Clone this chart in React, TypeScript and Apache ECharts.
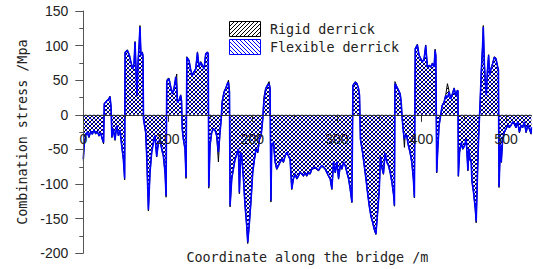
import React, { useEffect, useRef } from 'react';
import * as echarts from 'echarts';

// Coordinate along the bridge (m)
const positions = [
  0, 1.2, 2.8, 4.8, 6.7, 8.7, 10.7, 12.7, 14.6, 16.6,
  18.6, 20.5, 22.5, 24, 24.8, 27.7, 29.6, 31.6, 32.8, 33.8,
  35.5, 37.5, 39.5, 41.5, 43.4, 45.4, 47.4, 48.9, 49.4, 52.1,
  54.5, 56, 58.4, 60, 61.2, 62.4, 63.5, 64.7, 66, 67,
  68.2, 69.7, 70.6, 71.2, 73.8, 75, 77, 78.9, 80.9, 82.9,
  84.8, 86.8, 88.8, 90.7, 92.7, 94.7, 96.7, 97.9, 98.7, 99.5,
  101.4, 103.4, 105.4, 107.3, 109.3, 110.5, 111.3, 113.3, 115.2, 116.2,
  117, 118.4, 120.3, 121.5, 122.5, 125.1, 127.1, 129, 131, 133,
  135, 136.9, 138.9, 140.9, 142.8, 144.8, 146.8, 147.8, 148.4, 149.9,
  151.9, 153.9, 155.8, 157.8, 159.8, 161.7, 162.9, 164.2, 166.5, 168.5,
  170.5, 171.7, 172.9, 173.6, 175.6, 177.5, 179.5, 181.5, 183.5, 184.6,
  186.2, 187.4, 189.4, 191.3, 193.3, 194.5, 196.5, 198.5, 200.4, 202.4,
  204.4, 206.4, 208.3, 210.3, 212.3, 213.5, 215.8, 217.7, 219.7, 220.9,
  221.9, 222.9, 224.9, 226.9, 228.8, 230.8, 232.8, 234.8, 236.7, 238.7,
  240.7, 242.6, 244.6, 246.6, 248.5, 250.5, 252.5, 254.5, 256.4, 258.4,
  260.4, 262.3, 264.3, 266.3, 268.3, 270.3, 274.2, 278.2, 282.1, 286.1,
  290, 292, 294, 296, 298, 299.9, 301.9, 303.9, 305.9, 307.8,
  309.8, 311.8, 313.8, 315.7, 317.7, 318.9, 321.6, 323.6, 325.5, 326.7,
  327.8, 330.3, 332.3, 334.3, 336.2, 338.2, 340.2, 342.2, 344.1, 346.1,
  348.1, 350, 351.5, 353, 355, 357, 359, 361, 363, 365,
  367, 368, 368.6, 370.9, 372.9, 374.8, 376, 377.2, 378.6, 379.8,
  380.6, 382.5, 384.5, 386.5, 388.5, 390.4, 391.6, 392.6, 395.1, 397.1,
  399.1, 401.1, 403.1, 405, 407, 409, 410.9, 412.9, 414.9, 416.1,
  417, 418, 419.3, 420.8, 422, 424.4, 426.7, 428.7, 430.7, 432.7,
  434.6, 436.6, 438.6, 440.6, 442.5, 443.2, 443.6, 445, 447, 448.9,
  450.9, 452.9, 454.9, 456.1, 457.3, 458.8, 459.6, 461.6, 463.6, 464.7,
  466.3, 467.5, 469.5, 470.7, 472.3, 473.1, 474.3, 475.5, 476.7, 477.9,
  479.4, 480.6, 482.2, 484.2, 486.1, 488.1, 490.1, 491, 491.7, 493.3,
  494.4, 496, 498, 500, 501.9, 503.9, 505.9, 507.9, 509.9, 511.8,
  513.8, 515.8, 517.8, 519.7, 521.7, 523.7, 525.7, 527.6, 529.6, 530,
];

// Combination stress, flexible derrick (MPa)
const flexibleStress = [
  -64, -40, -30, -25, -32, -24, -28, -22, -27, -24,
  -30, -26, -35, -40, 16, 20, 22, 26, 12, -32,
  -20, -36, -16, -30, -22, -44, -64, -92, 90, 93,
  86, 78, 66, 74, 105, 64, 28, 75, 100, 127,
  86, 90, 85, -6, -25, -59, -137, -83, -54, -40,
  -30, -60, -40, -35, -49, -59, -83, -117, 47, 50,
  52, 40, 30, 38, 55, 40, 18, 21, 28, 20,
  -20, -35, -49, -90, 83, 78, 64, 57, 62, 66,
  90, 69, 76, 71, 66, 88, 90, 88, -104, -44,
  -25, -20, -22, -30, -54, -25, -10, 18, 33, 38,
  45, 47, 33, -131, -92, -78, -64, -57, -49, -112,
  -54, -59, -92, -131, -160, -184, -155, -121, -83, -64,
  -49, -54, -35, -30, -6, 18, 38, 42, 45, 38,
  -124, -44, -40, -68, -78, -73, -68, -64, -68, -59,
  -54, -59, -64, -107, -92, -85, -92, -88, -83, -85,
  -88, -83, -88, -83, -85, -78, -76, -80, -73, -78,
  -88, -92, -107, -68, -83, -68, -92, -73, -78, -68,
  -73, -83, -92, -107, -126, 42, 47, 45, 38, 28,
  -35, -54, -73, -92, -112, -131, -146, -155, -165, -172,
  -141, -110, -60, -75, -85, -55, -68, -73, -83, -97,
  -115, -131, 45, 40, 35, 30, 18, -6, -25, -35,
  -30, -30, -44, -54, -68, -92, -119, 95, 101, 86,
  81, 76, 81, 100, 69, 71, 69, 74, 69, 93,
  85, -83, -49, -15, -6, 13, 18, 28, 25, 33,
  23, 30, 38, 28, 35, 34, -88, -54, -40, -49,
  -44, -35, -80, -49, -64, -68, -95, -112, -135, -154,
  -83, -35, 23, 62, 100, 127, 76, 47, 28, 62,
  86, 57, 66, 74, 83, 81, 69, 65, -104, -44,
  -68, -35, -25, -20, -15, -18, -15, -10, -13, -18,
  -10, -25, -15, -18, -10, -25, -15, -20, -27, -18,
];

// Combination stress, rigid derrick (MPa)
const rigidStress = [
  -66, -41, -30, -25, -33, -24, -28, -22, -28, -24,
  -31, -26, -36, -42, 16, 21, 22, 27, 12, -33,
  -20, -37, -16, -30, -22, -45, -65, -94, 91, 94,
  87, 78, 67, 74, 106, 64, 27, 76, 101, 129,
  87, 91, 86, -6, -27, -60, -139, -84, -55, -40,
  -31, -61, -40, -36, -50, -60, -84, -119, 48, 52,
  53, 41, 31, 39, 52, 59, 19, 22, 29, 21,
  -21, -36, -50, -92, 84, 79, 65, 58, 63, 67,
  91, 70, 77, 72, 67, 89, 91, 89, -106, -45,
  -26, -21, -23, -31, -68, -26, -10, 19, 34, 39,
  46, 50, 34, -133, -93, -79, -65, -58, -50, -114,
  -55, -60, -93, -132, -161, -186, -156, -122, -84, -65,
  -50, -55, -36, -31, -6, 25, 39, 43, 48, 39,
  -126, -45, -41, -69, -79, -74, -69, -65, -69, -60,
  -55, -60, -65, -108, -93, -86, -93, -89, -84, -86,
  -89, -84, -89, -84, -86, -79, -77, -81, -74, -79,
  -89, -93, -108, -69, -84, -69, -93, -74, -79, -69,
  -74, -84, -93, -108, -127, 43, 48, 46, 39, 29,
  -36, -55, -74, -93, -113, -132, -147, -156, -166, -173,
  -142, -111, -61, -76, -86, -56, -69, -74, -84, -98,
  -116, -132, 48, 41, 36, 31, 19, -6, -26, -47,
  -31, -31, -45, -55, -69, -93, -120, 96, 102, 87,
  82, 77, 82, 101, 70, 72, 70, 75, 70, 95,
  86, -84, -50, -16, -6, 14, 19, 29, 45, 34,
  24, 31, 39, 29, 36, 35, -89, -55, -41, -50,
  -45, -36, -81, -50, -65, -69, -96, -113, -136, -156,
  -84, -36, 24, 63, 101, 129, 77, 48, 29, 63,
  87, 58, 67, 75, 84, 82, 70, 66, -105, -45,
  -69, -36, -26, -21, -16, -19, -16, -11, -14, -19,
  -11, -26, -16, -19, -11, -26, -16, -21, -28, -19,
];

const seriesNames = ['Rigid derrick', 'Flexible derrick'];
const xLabelValues = [0, 100, 200, 300, 400, 500];
const xMinorTickValues = [50, 150, 250, 350, 450];
const Y_MIN = -200;
const Y_MAX = 150;

const MONO = '"DejaVu Sans Mono", "Liberation Mono", monospace';
const SANS = '"Liberation Sans", Arial, sans-serif';

// crisp one-pixel diagonal hatch tile
function hatch(color: string, dir: '/' | '\\') {
  const s = 4;
  const c = document.createElement('canvas');
  c.width = s;
  c.height = s;
  const ctx = c.getContext('2d')!;
  ctx.fillStyle = color;
  for (let i = 0; i < s; i++) {
    const col = dir === '\\' ? i : s - 1 - i;
    ctx.fillRect(col, i, 1, 1);
  }
  return { image: c, repeat: 'repeat', imageWidth: s, imageHeight: s } as any;
}

const W = 533;
const H = 269;
const GRID = { left: 83.3, right: 1.6, top: 11, bottom: 15.7 };

export default function App() {
  const ref = useRef<HTMLDivElement>(null);
  useEffect(() => {
    if (!ref.current) return;
    const chart = echarts.init(ref.current, null, { renderer: 'svg' });
    const rigidFill = hatch('#000000', '/');
    const flexFill = hatch('#0000ff', '\\');
    const rigidData = positions.map((x, i) => [x, rigidStress[i]]);
    const flexData = positions.map((x, i) => [x, flexibleStress[i]]);
    // distance of the zero line from the grid's bottom / top edge
    const gridH = H - GRID.top - GRID.bottom;
    const zeroFromTop = (Y_MAX / (Y_MAX - Y_MIN)) * gridH;
    const zeroFromBottom = gridH - zeroFromTop;
    chart.setOption({
      animation: false,
      backgroundColor: '#ffffff',
      grid: { ...GRID, containLabel: false, outerBoundsMode: 'none' } as any,
      xAxis: [
        {
          type: 'value', min: 0, max: 530, position: 'bottom', offset: -zeroFromBottom, z: 5,
          axisLine: { show: true, onZero: false, lineStyle: { color: '#333', width: 1 } },
          axisTick: { show: true, length: 7, customValues: xLabelValues, lineStyle: { color: '#333' } },
          axisLabel: { show: true, customValues: xLabelValues, margin: 17, fontSize: 14, fontFamily: SANS, color: '#222' },
          splitLine: { show: false },
          name: 'Coordinate along the bridge /m', nameLocation: 'middle', nameGap: 136,
          nameTextStyle: { fontFamily: MONO, fontSize: 13.4, color: '#222' },
        },
        {
          type: 'value', min: 0, max: 530, position: 'top', offset: -zeroFromTop, z: 5,
          axisLine: { show: false, onZero: false },
          axisTick: { show: true, inside: true, length: 4, customValues: xMinorTickValues, lineStyle: { color: '#333' } },
          axisLabel: { show: false },
          splitLine: { show: false },
        },
      ],
      yAxis: {
        type: 'value', min: Y_MIN, max: Y_MAX, interval: 50, z: 5,
        axisLine: { show: true, onZero: false, lineStyle: { color: '#555', width: 1 } },
        axisTick: { show: true, length: 8, lineStyle: { color: '#555' } },
        minorTick: { show: true, splitNumber: 2, length: 4, lineStyle: { color: '#555' } },
        axisLabel: { margin: 15, fontSize: 14, fontFamily: SANS, color: '#222' },
        splitLine: { show: false },
        name: 'Combination stress /Mpa', nameLocation: 'middle', nameRotate: 90, nameGap: 53,
        nameTextStyle: { fontFamily: MONO, fontSize: 13.4, color: '#222' },
      },
      series: [
        {
          name: seriesNames[0], type: 'line', data: rigidData, xAxisIndex: 0, showSymbol: false, silent: true, z: 2,
          lineStyle: { color: '#000', width: 1 }, itemStyle: { color: '#000' },
          areaStyle: { color: rigidFill, origin: 0, opacity: 1 },
        },
        {
          name: seriesNames[1], type: 'line', data: flexData, xAxisIndex: 0, showSymbol: false, silent: true, z: 3,
          lineStyle: { color: '#0000ff', width: 1.6 }, itemStyle: { color: '#0000ff' },
          areaStyle: { color: flexFill, origin: 0, opacity: 1 },
        },
      ],
      graphic: [
        { type: 'rect', shape: { x: 229.5, y: 21.5, width: 31, height: 15 }, style: { fill: rigidFill, stroke: '#000', lineWidth: 1 } },
        { type: 'rect', shape: { x: 229.5, y: 39.5, width: 31, height: 15 }, style: { fill: flexFill, stroke: '#0000ff', lineWidth: 1 } },
        { type: 'text', x: 270, y: 29, style: { text: seriesNames[0], font: `13.4px ${MONO}`, fill: '#222', verticalAlign: 'middle' } },
        { type: 'text', x: 270, y: 47, style: { text: seriesNames[1], font: `13.4px ${MONO}`, fill: '#222', verticalAlign: 'middle' } },
      ],
    });
    return () => chart.dispose();
  }, []);
  return <div ref={ref} style={{ position: 'fixed', left: 0, top: 0, width: W, height: H }} />;
}
